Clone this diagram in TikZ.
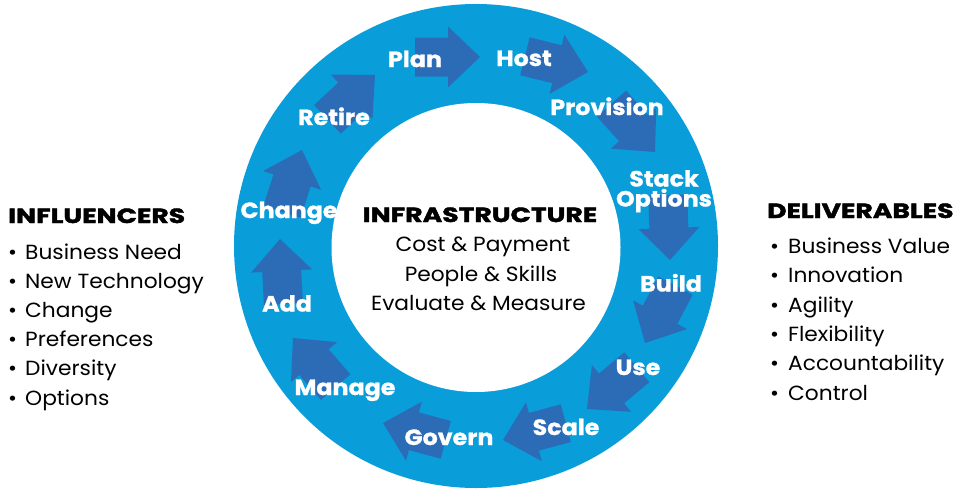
\documentclass[tikz,border=0pt]{standalone}
\usepackage{fontspec}
\setmainfont{Poppins}[FakeStretch=1.06]
\newfontfamily\headfont{Poppins}[FakeStretch=1.3, FakeBold=2]
\newfontfamily\labfont{Poppins}[FakeStretch=1.08, FakeBold=1]
\definecolor{ringblue}{RGB}{9,157,218}
\definecolor{arrowblue}{RGB}{44,108,182}
\newcommand{\blockarr}[3]{\fill[arrowblue, shift={(#1,#2)}, rotate=#3] (0,0) -- (-32,30.5) -- (-32,19.5) -- (-65,19.5) -- (-65,-19.5) -- (-32,-19.5) -- (-32,-30.5) -- cycle;}
\tikzset{
  lab/.style={inner sep=0pt, text=white, font=\labfont\bfseries\fontsize{22}{22}\selectfont, anchor=base},
  head/.style={inner sep=0pt, text=black, font=\headfont\bfseries\fontsize{20.5}{20.5}\selectfont, anchor=base},
  body/.style={inner sep=0pt, text=black, font=\fontsize{20.5}{20.5}\selectfont, anchor=base},
  item/.style={inner sep=0pt, text=black, font=\fontsize{20.5}{20.5}\selectfont, anchor=base west}
}
\begin{document}
\begin{tikzpicture}[x=1pt,y=-1pt]
\useasboundingbox (0,0) rectangle (961,490);
\fill[white] (0,0) rectangle (961,490);
% ring
\fill[ringblue] (476,246) circle (242pt);
\fill[white] (476,247.5) circle (144.5pt);
% arrows
\blockarr{480}{57}{0}
\blockarr{588}{72}{-14}
\blockarr{655}{152}{-48}
\blockarr{670}{260}{-88}
\blockarr{645}{343}{-118}
\blockarr{587}{409}{-140}
\blockarr{503}{440}{-165}
\blockarr{383}{423}{165}
\blockarr{293}{338}{131}
\blockarr{280}{239}{93}
\blockarr{302}{150}{72}
\blockarr{375}{75}{43}
% labels
\node[lab] (plan) at (415,67) {Plan};
\node[lab] (host) at (524,66) {Host};
\node[lab] (provision) at (607,115) {Provision};
\node[lab] (stack) at (664,186.5) {Stack};
\node[lab] (options) at (664,206.5) {Options};
\node[lab] (build) at (671,291.5) {Build};
\node[lab] (use) at (638,375) {Use};
\node[lab] (scale) at (566,435) {Scale};
\node[lab] (govern) at (449,445) {Govern};
\node[lab] (manage) at (345,395) {Manage};
\node[lab] (add) at (287,311.5) {Add};
\node[lab] (change) at (289,218) {Change};
\node[lab] (retire) at (334,125) {Retire};
% centre
\node[head] (infra) at (480,222) {INFRASTRUCTURE};
\node[body] (cost) at (483,251.5) {Cost \& Payment};
\node[body] (people) at (481,281) {People \& Skills};
\node[body] (eval) at (478.5,310.5) {Evaluate \& Measure};
% influencers
\node[head, anchor=base west] (influencers) at (8,223) {INFLUENCERS};
\foreach \t [count=\i] in {Business Need, New Technology, Change, Preferences, Diversity, Options}
  \node[item] (inf\i) at (8,{259+29.2*(\i-1)}) {\makebox[17pt][l]{•}\t};
% deliverables
\node[head, anchor=base west] (deliverables) at (767,218) {DELIVERABLES};
\foreach \t [count=\i] in {Business Value, Innovation, Agility, Flexibility, Accountability, Control}
  \node[item] (del\i) at (770,{253.5+29.3*(\i-1)}) {\makebox[18pt][l]{•}\t};
\end{tikzpicture}
\end{document}
